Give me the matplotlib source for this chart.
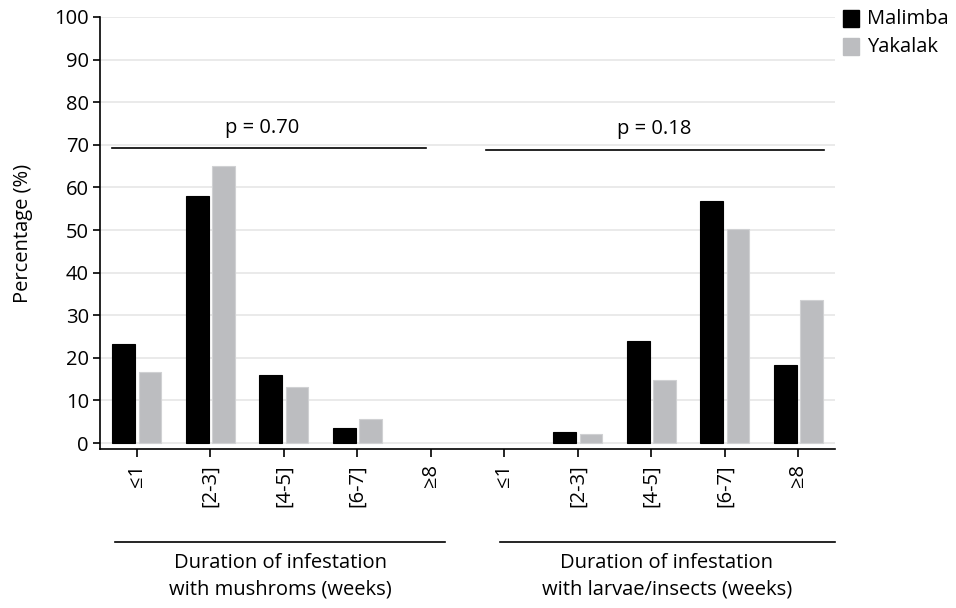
import matplotlib
matplotlib.use("Agg")
import matplotlib.pyplot as plt
from matplotlib.lines import Line2D
from matplotlib.patches import Rectangle
import numpy as np

plt.rcParams['font.family'] = ['Open Sans', 'DejaVu Sans']

categories = ["≤1", "[2-3]", "[4-5]", "[6-7]", "≥8", "≤1", "[2-3]", "[4-5]", "[6-7]", "≥8"]
malimba = [23.2, 58.1, 16.0, 3.6, 0, 0, 2.5, 24.0, 56.7, 18.2]
yakalak = [16.7, 65.0, 13.1, 5.7, 0, 0, 2.1, 14.8, 50.2, 33.5]
series_names = ["Malimba", "Yakalak"]
p_labels = ["p = 0.70", "p = 0.18"]
group_titles = ["Duration of infestation\nwith mushroms (weeks)",
                "Duration of infestation\nwith larvae/insects (weeks)"]
y_label = "Percentage (%)"

c_black = "#000000"
c_gray = "#bcbdc0"
FS = 14.5

fig = plt.figure(figsize=(9.56, 6.08), dpi=100)
W, H = 956, 608
ax = fig.add_axes([100 / W, (H - 449) / H, (835 - 100) / W, (449 - 17) / H])

x = np.arange(len(categories))
bw = 0.31
ax.bar(x - 0.175, malimba, width=bw, color=c_black, edgecolor=c_black,
       linewidth=[0.8 if v > 0 else 0 for v in malimba], zorder=3)
ax.bar(x + 0.18, yakalak, width=bw, color=c_gray, edgecolor="#d0d1d3",
       linewidth=[0.8 if v > 0 else 0 for v in yakalak], zorder=3)

ax.set_xlim(-0.5, 9.5)
ax.set_ylim(-1.4, 100)
ax.set_yticks(np.arange(0, 101, 10))
ax.yaxis.grid(True, color="#e6e6e6", linewidth=1.2, zorder=0)
ax.set_axisbelow(True)
ax.set_xticks(x)
ax.set_xticklabels(categories, rotation=90, fontsize=FS)
ax.tick_params(axis='y', labelsize=FS, length=5, width=1.2, pad=3)
ax.tick_params(axis='x', length=6, width=1.2, pad=5)
for s in ["top", "right"]:
    ax.spines[s].set_visible(False)
ax.spines["left"].set_linewidth(1.2)
ax.spines["bottom"].set_linewidth(1.2)
ax.spines["left"].set_bounds(-1.4, 100)
ax.set_ylabel(y_label, fontsize=FS, labelpad=15)

# p-value bars
ax.plot([-0.34, 3.93], [69.2, 69.2], color="black", linewidth=1.2, zorder=4)
ax.plot([4.75, 9.35], [68.8, 68.8], color="black", linewidth=1.2, zorder=4)
ax.text(1.71, 71.7, p_labels[0], ha="center", va="bottom", fontsize=FS)
ax.text(7.04, 71.4, p_labels[1], ha="center", va="bottom", fontsize=FS)

# group titles below
fig.add_artist(Line2D([115 / W, 445 / W], [1 - 542 / H, 1 - 542 / H], color="black", linewidth=1.2))
fig.add_artist(Line2D([500 / W, 835 / W], [1 - 542 / H, 1 - 542 / H], color="black", linewidth=1.2))
fig.text(280 / W, 1 - 576 / H, group_titles[0], ha="center", va="center", fontsize=FS, linespacing=1.45)
fig.text(667 / W, 1 - 576 / H, group_titles[1], ha="center", va="center", fontsize=FS, linespacing=1.45)

# legend
for i, (name, col) in enumerate(zip(series_names, [c_black, c_gray])):
    y0 = 10 + i * 28
    fig.add_artist(Rectangle((843 / W, 1 - (y0 + 17) / H), 16 / W, 17 / H,
                             transform=fig.transFigure, color=col))
    fig.text(867 / W, 1 - (y0 + 8.5) / H, name, ha="left", va="center", fontsize=FS)

fig.savefig("out.png", dpi=100)
